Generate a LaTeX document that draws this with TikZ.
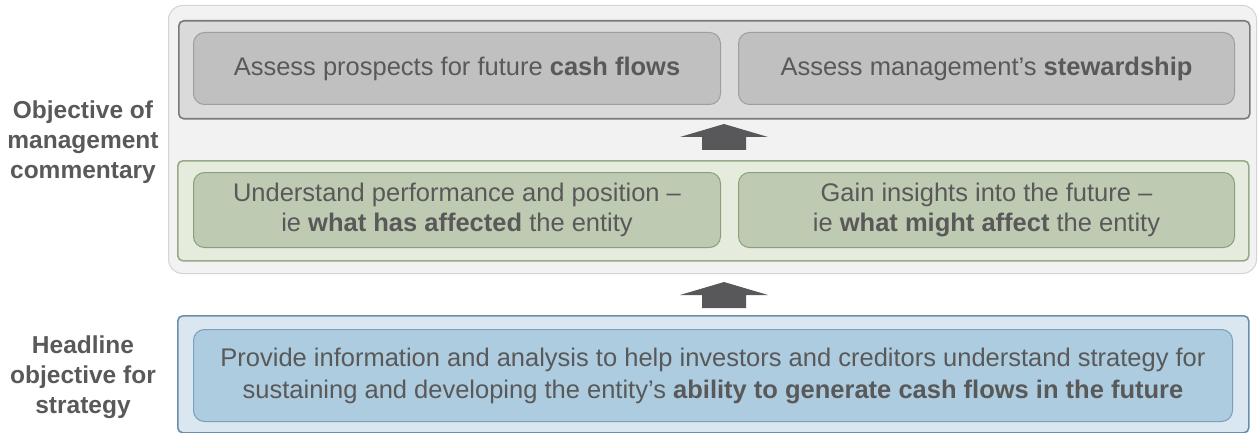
\documentclass[tikz,border=0pt]{standalone}
\usepackage{fontspec}
\setmainfont{Liberation Sans}
\usetikzlibrary{positioning}

\definecolor{txtgray}{HTML}{595959}
\definecolor{panelfill}{HTML}{F2F2F2}
\definecolor{paneldraw}{HTML}{D4D4D4}
\definecolor{grayband}{HTML}{DADADA}
\definecolor{graybanddraw}{HTML}{7A7A7A}
\definecolor{grayboxfill}{HTML}{C0C0C0}
\definecolor{grayboxdraw}{HTML}{9E9E9E}
\definecolor{greenband}{HTML}{E5EBDD}
\definecolor{greenbanddraw}{HTML}{98AB88}
\definecolor{greenboxfill}{HTML}{BFCAB2}
\definecolor{greenboxdraw}{HTML}{8C9E7C}
\definecolor{blueband}{HTML}{DAE7F0}
\definecolor{bluebanddraw}{HTML}{6890AE}
\definecolor{blueboxfill}{HTML}{ADCCDF}
\definecolor{blueboxdraw}{HTML}{7AA0BA}
\definecolor{arrowfill}{HTML}{58585A}

% up arrow between two bands, #1 is the tip
\newcommand{\uparrowat}[1]{%
  \path[blockarrow] (#1) -- ++(44,13) -- ++(-22,0) -- ++(0,13) -- ++(-44,0)
    -- ++(0,-13) -- ++(-22,0) -- cycle;}

\begin{document}
\begin{tikzpicture}[x=1pt,y=-1pt]
    % Define block styles
    \tikzset{
      band/.style={rectangle, rounded corners=5pt, line width=1.6pt, anchor=north west,
        minimum width=1071pt, inner sep=0pt},
      innerbox/.style={rectangle, rounded corners=11pt, line width=1pt, anchor=north west,
        text=txtgray, align=center, inner sep=0pt,
        font=\fontsize{25.5}{30}\selectfont},
      label/.style={text=txtgray, align=center, font=\fontsize{24.5}{30}\selectfont\bfseries},
      blockarrow/.style={fill=arrowfill}
    }
    \useasboundingbox (0,0) rectangle (1258,433);

    % Place panels and bands
    \node [rectangle, rounded corners=14pt, fill=panelfill, draw=paneldraw, line width=1pt,
      anchor=north west, minimum width=1088pt, minimum height=268pt] (panel) at (168,5) {};
    \node [band, fill=grayband, draw=graybanddraw, minimum height=98pt] (grayrow) at (178,20) {};
    \node [band, fill=greenband, draw=greenbanddraw, minimum height=100pt] (greenrow) at (177,160) {};
    \node [band, fill=blueband, draw=bluebanddraw, minimum height=117pt] (bluerow) at (177,315) {};

    % Boxes inside the bands
    \node [innerbox, fill=grayboxfill, draw=grayboxdraw, minimum width=527pt, minimum height=72pt]
      (cashflows) at (193,32) {Assess prospects for future \textbf{cash flows}};
    \node [innerbox, fill=grayboxfill, draw=grayboxdraw, minimum width=496pt, minimum height=72pt,
      anchor=west, right=17pt of cashflows] (stewardship)
      {Assess management’s \textbf{stewardship}};
    \node [innerbox, fill=greenboxfill, draw=greenboxdraw, minimum width=527pt, minimum height=75pt]
      (performance) at (193,172)
      {Understand performance and position –\\ie \textbf{what has affected} the entity};
    \node [innerbox, fill=greenboxfill, draw=greenboxdraw, minimum width=496pt, minimum height=75pt,
      anchor=west, right=17pt of performance] (insights)
      {Gain insights into the future –\\ie \textbf{what might affect} the entity};
    \node [innerbox, fill=blueboxfill, draw=blueboxdraw, minimum width=1039pt, minimum height=92pt,
      font=\fontsize{25.5}{32}\selectfont] (strategy) at (193,329)
      {Provide information and analysis to help investors and creditors understand strategy for\\
       sustaining and developing the entity’s \textbf{ability to generate cash flows in the future}};

    % Side labels
    \node [label] (objective) at (83,142) {Objective of\\management\\commentary};
    \node [label] (headline) at (83,377) {Headline\\objective for\\strategy};

    % Draw arrows
    \coordinate (tipA) at (724,124);
    \coordinate (tipB) at (724,282);
    \uparrowat{tipA}
    \uparrowat{tipB}
\end{tikzpicture}
\end{document}
